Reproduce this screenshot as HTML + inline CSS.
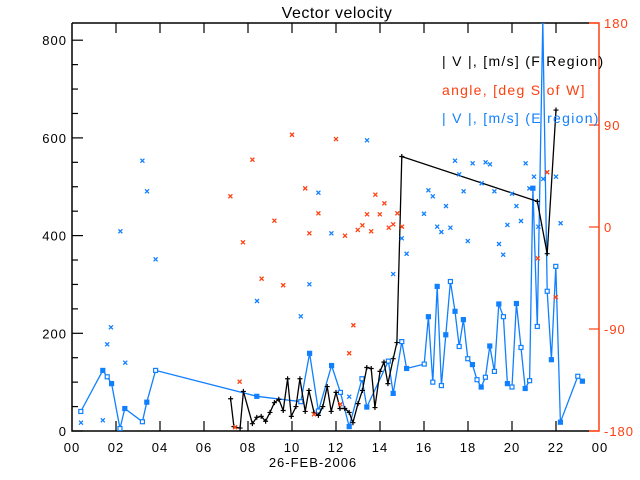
<!DOCTYPE html>
<html><head><meta charset="utf-8"><style>
body{margin:0;background:#fff;}
svg{display:block;font-family:"Liberation Sans",sans-serif;}
</style></head><body>
<svg id="chart" width="640" height="480" viewBox="0 0 640 480">
<defs><clipPath id="pc"><rect x="72" y="23" width="527" height="408"/></clipPath></defs>
<rect width="640" height="480" fill="#fff"/>
<text x="337" y="18" font-size="16" text-anchor="middle" letter-spacing="0.5">Vector velocity</text>
<g id="axes"></g>
<g id="marks" clip-path="url(#pc)"></g>
<g font-size="14" letter-spacing="1.3">
<text x="442" y="66" fill="#000">| V |, [m/s] (F Region)</text>
<text x="442" y="95" fill="#ff4010">angle, [deg S of W]</text>
<text x="442" y="123" fill="#1080ff">| V |, [m/s] (E region)</text>
</g>
<text x="313" y="467" font-size="13" text-anchor="middle" letter-spacing="1">26-FEB-2006</text>
</svg>
<script>
const fHours=[7.21,7.36,7.64,7.79,8.2,8.4,8.6,8.8,9.0,9.2,9.4,9.6,9.8,9.97,10.18,10.36,10.6,10.77,11.0,11.2,11.4,11.6,11.78,12.0,12.18,12.4,12.6,12.77,13.0,13.2,13.4,13.6,13.77,14.0,14.18,14.36,14.6,14.77,14.99,21.15,21.6,22.0];
const fSpeed=[66,9,6,81,15,28,30,20,38,58,65,42,107,30,50,107,40,83,38,32,50,91,40,79,46,46,38,17,56,83,130,128,48,122,141,97,148,181,562,470,363,657];
const eHours=[0.4,1.4,1.6,1.8,2.18,2.4,3.2,3.4,3.8,8.4,10.4,10.8,11.2,11.8,12.2,12.6,13.18,13.4,14.38,14.6,14.99,15.21,16.01,16.2,16.4,16.6,16.79,16.99,17.2,17.41,17.6,17.79,17.99,18.2,18.41,18.6,18.79,18.99,19.2,19.4,19.61,19.79,20.0,20.2,20.41,20.6,20.8,20.95,21.15,21.4,21.6,21.79,21.99,22.2,22.99,23.2];
const eSpeed=[40,124,111,97,5,46,19,59,124,71,60,159,41,134,79,9,107,49,143,77,183,128,137,234,100,296,93,197,306,245,173,228,148,136,105,90,110,174,122,260,234,97,90,261,171,87,103,497,214,840,286,146,337,18,112,102];
const eAngHours=[2.2,3.2,3.41,11.2,11.79,13.41,14.99,16.2,16.4,16.0,16.6,16.79,17.2,17.0,17.41,17.6,17.8,18.21,18.62,18.8,19.0,19.2,19.79,20.0,20.2,20.41,20.62,20.79,21.0,21.2,21.42,22.0,22.21,0.41,1.4,1.6,1.77,2.42,3.8,8.41,10.4,10.79,12.6,14.6,15.21,17.99,19.41,19.6];
const eAngle=[-3.8,58.5,31.5,30.3,-5.6,76.5,-10,32.4,27.1,11.7,0.3,-4.4,-0.6,18.5,58.5,46.5,31.5,56.2,38.6,57.1,55.3,31.5,1.8,29.4,18.5,5.3,56.2,34.1,44.4,0.3,42.4,44.4,3.3,-172.7,-170.6,-103.5,-88.5,-119.7,-28.5,-65.3,-78.8,-50.6,-149.7,-41.5,-23.6,-12.4,-15,-24.4];
const oAngHours=[7.2,8.2,9.2,10.0,10.6,10.79,11.2,12.0,12.41,12.99,13.2,13.41,13.6,13.79,13.99,14.2,14.4,14.6,14.79,15.0,21.6,7.77,8.62,9.6,7.62,7.41,11.0,12.2,12.79,12.6,21.17,21.99];
const oAngle=[27.1,59.4,5.6,81.4,34.1,-5.6,12.1,77.6,-7.7,-2.6,1.5,11.2,-3.8,28.5,11.2,20.9,-0.6,2.4,12.1,0.3,48.3,-13.5,-45.6,-51.4,-136.5,-176.7,-165.3,-156.4,-86.7,-111.4,-27.6,-62];
const xTickLabels=["00","02","04","06","08","10","12","14","16","18","20","22","00"];
const leftTicks=[0,200,400,600,800];
const rightTicks=[-180,-90,0,90,180];

const NS="http://www.w3.org/2000/svg";
const X0=72,X1=599,Y0=431,Y1=23;
function xs(h){return X0+h*22;}
function yl(v){return Y0-v*0.4885;}
function yr(a){return Y0-(a+180)*(Y0-Y1)/360;}
function mk(tag,attrs,parent){const e=document.createElementNS(NS,tag);for(const k in attrs)e.setAttribute(k,attrs[k]);parent.appendChild(e);return e;}
const axes=document.getElementById('axes'),marks=document.getElementById('marks');
const BLUE="#1080ff",ORANGE="#ff4010";
let fr=mk('path',{d:`M${X0},${Y1}V${Y0}H589M${X0},${Y1}H589`,stroke:'#000',fill:'none','stroke-width':1.5},axes);


let ra=mk('path',{d:`M589,${Y1}H${X1}V${Y0}H589`,stroke:ORANGE,fill:'none','stroke-width':1.5},axes);


xTickLabels.forEach((l,i)=>{const x=xs(i*2);
 if(i>0&&i<12){let t=mk('path',{d:`M${x},${Y0}v-10M${x},${Y1}v10`,stroke:'#000','stroke-width':1.2},axes);
 
 }
 let tx=mk('text',{x:x,y:452,'font-size':13,'text-anchor':'middle','letter-spacing':1},axes);tx.textContent=l;
 
 });
for(let v=50;v<835;v+=50){if(v%200==0)continue;mk('path',{d:`M${X0},${yl(v)}h6`,stroke:'#000','stroke-width':1.2},axes);}
leftTicks.forEach(v=>{const y=yl(v);mk('path',{d:`M${X0},${y}h11`,stroke:'#000','stroke-width':1.2},axes);
 let tx=mk('text',{x:67,y:y+5,'font-size':13,'text-anchor':'end','letter-spacing':1},axes);tx.textContent=v;
 
 });
rightTicks.forEach(a=>{const y=yr(a);mk('path',{d:`M${X1},${y}h-10`,stroke:ORANGE,'stroke-width':1.2},axes);
 let tx=mk('text',{x:604,y:y+5,'font-size':13,fill:ORANGE,'letter-spacing':1},axes);tx.textContent=a;
 
 });
let ep=eHours.map((h,i)=>`${i?'L':'M'}${xs(h).toFixed(1)},${yl(eSpeed[i]).toFixed(1)}`).join('');
let el=mk('path',{d:ep,stroke:BLUE,fill:'none','stroke-width':1.3},marks);


eHours.forEach((h,i)=>{let r=mk('rect',{x:xs(h)-2,y:yl(eSpeed[i])-2,width:4,height:4,fill:i%2?BLUE:'#fff',stroke:BLUE,'stroke-width':1.2},marks);
 
 });
let fp=fHours.map((h,i)=>`${i?'L':'M'}${xs(h).toFixed(1)},${yl(fSpeed[i]).toFixed(1)}`).join('');
let fl=mk('path',{d:fp,stroke:'#000',fill:'none','stroke-width':1.3},marks);


fHours.forEach((h,i)=>{const x=xs(h),y=yl(fSpeed[i]);let p=mk('path',{d:`M${x-2.5},${y}h5M${x},${y-2.5}v5`,stroke:'#000','stroke-width':1.2},marks);
 
 });
function cross(x,y,c,name){let p=mk('path',{d:`M${x-2},${y-2}l4,4M${x-2},${y+2}l4,-4`,stroke:c,'stroke-width':1.3},marks);
 
 }
eAngHours.forEach((h,i)=>cross(xs(h),yr(eAngle[i]),BLUE,'e-angle-point'));
oAngHours.forEach((h,i)=>cross(xs(h),yr(oAngle[i]),ORANGE,'f-angle-point'));
</script>
</body></html>
